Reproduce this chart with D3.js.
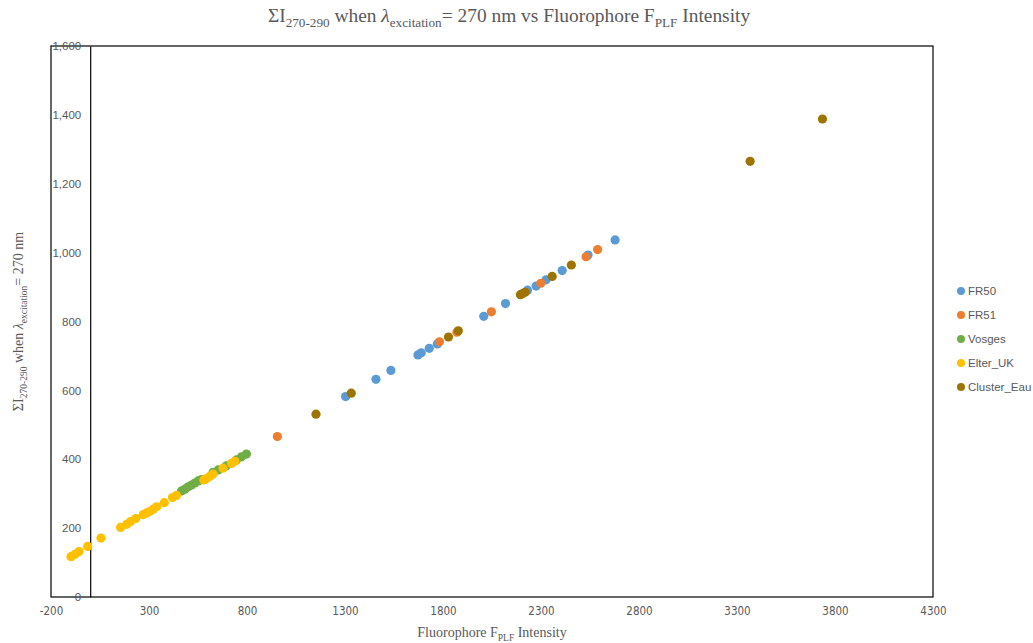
<!DOCTYPE html>
<html>
<head>
<meta charset="utf-8">
<script src="https://cdn.jsdelivr.net/npm/d3@7"></script>
<style>
  body { margin: 0; background: #fff; }
  svg { display: block; }
</style>
</head>
<body>
<svg id="chart" width="1033" height="643"></svg>
<script>
// series: [fluorophore intensity, sum I 270-290]
const fr50= [[1303,582],[1458,632],[1534,658],[1672,703],[1689,709],[1730,722],[1771,735],
  [2008,815],[2119,852],[2231,891],[2275,903],[2326,921],[2408,948],[2540,993],[2678,1037]];
const fr51= [[955,466],[1782,741],[1871,769],[2047,828],[2299,911],[2530,988],[2589,1009]];
const vosges= [[466,308],[483,313],[500,320],[517,325],[534,331],[551,337],[568,341],
  [627,362],[653,369],[695,381],[746,398],[772,407],[797,415]];
const elterUK= [[-98,117],[-78,124],[-57,132],[-13,147],[55,171],[155,202],[186,211],[206,219],
  [233,228],[270,239],[288,244],[305,249],[321,255],[339,262],[378,274],[420,289],[440,295],
  [580,340],[593,344],[610,350],[627,357],[678,374],[721,388],[738,394]];
const clusterEau= [[1152,531],[1332,592],[1828,755],[1878,773],[2195,878],[2207,881],[2219,885],
  [2357,931],[2455,964],[3367,1265],[3736,1388]];

const seriesNames= ['FR50', 'FR51', 'Vosges', 'Elter_UK', 'Cluster_Eau'];
const seriesColors= ['#5b9bd5', '#ed7d31', '#70ad47', '#ffc000', '#9e7400'];
const seriesData= [fr50, fr51, vosges, elterUK, clusterEau];

const xTicks= [-200, 300, 800, 1300, 1800, 2300, 2800, 3300, 3800, 4300];
const yTicks= [0, 200, 400, 600, 800, 1000, 1200, 1400, 1600];

const svg= d3.select('#chart');
const L= 51, R= 933, T= 46, B= 597;

const x= d3.scaleLinear().domain([-200, 4300]).range([L, R]);
const y= d3.scaleLinear().domain([0, 1600]).range([B, T]);

const grey= '#595959';
const serif= '"Liberation Serif", "Times New Roman", serif';
const sans= '"Liberation Sans", Arial, sans-serif';

// plot border
svg.append('rect')
  .attr('x', L).attr('y', T).attr('width', R-L).attr('height', B-T)
  .attr('fill', 'none').attr('stroke', '#000').attr('stroke-width', 1.2);

// y axis sits at x = 0
const yAxis= svg.append('g')
  .attr('transform', `translate(${x(0)},0)`)
  .call(d3.axisLeft(y).tickValues(yTicks).tickSize(0).tickPadding(9).tickFormat(d3.format(',')));
yAxis.select('.domain').attr('stroke', '#000').attr('stroke-width', 1.2);
yAxis.selectAll('text').attr('fill', grey).style('font-family', sans).style('font-size', '11.5px');

const xAxis= svg.append('g')
  .attr('transform', `translate(0,${B})`)
  .call(d3.axisBottom(x).tickValues(xTicks).tickSize(0).tickPadding(10).tickFormat(d => String(d)));
xAxis.select('.domain').remove();
xAxis.selectAll('text').attr('fill', grey)
  .style('font-family', '"Liberation Sans Narrow", "DejaVu Sans Condensed", sans-serif')
  .style('font-size', '11.5px');

// points
seriesData.forEach((pts, i) => {
  svg.append('g').selectAll('circle').data(pts).join('circle')
    .attr('cx', d => x(d[0]))
    .attr('cy', d => y(d[1]))
    .attr('r', 4.6)
    .attr('fill', seriesColors[i]);
});

// text with subscripts
function richText(g, parts, size) {
  const t= g.append('text').attr('fill', grey).style('font-family', serif).style('font-size', size+'px');
  let shift= 0;
  parts.forEach(p => {
    const sub= p.sub;
    const ts= t.append('tspan').text(p.t);
    const want= sub ? size*0.28 : 0;
    if (want !== shift) { ts.attr('dy', want-shift); shift= want; }
    if (sub) ts.style('font-size', (size*0.68)+'px');
    if (p.it) ts.style('font-style', 'italic');
  });
  return t;
}

const title= richText(svg, [
  {t: 'ΣI'}, {t: '270-290', sub: true}, {t: ' when '}, {t: 'λ', it: true},
  {t: 'excitation', sub: true}, {t: '= 270 nm vs Fluorophore F'}, {t: 'PLF', sub: true}, {t: ' Intensity'}
], 19.4);
title.attr('x', 509).attr('y', 22).attr('text-anchor', 'middle');

const xt= richText(svg, [{t: 'Fluorophore F'}, {t: 'PLF', sub: true}, {t: ' Intensity'}], 14);
xt.attr('x', (L+R)/2).attr('y', 637).attr('text-anchor', 'middle');

const yt= richText(svg, [
  {t: 'ΣI'}, {t: '270-290', sub: true}, {t: ' when '}, {t: 'λ', it: true},
  {t: 'excitation', sub: true}, {t: '= 270 nm'}
], 14);
yt.attr('text-anchor', 'middle')
  .attr('transform', `translate(23,${(T+B)/2}) rotate(-90)`);

// legend
const leg= svg.append('g');
seriesNames.forEach((name, i) => {
  const ly= 291 + i*24;
  leg.append('circle').attr('cx', 961).attr('cy', ly).attr('r', 4).attr('fill', seriesColors[i]);
  leg.append('text').attr('x', 968).attr('y', ly).attr('dy', '0.35em')
    .attr('fill', grey).style('font-family', sans).style('font-size', '11.5px').text(name);
});
</script>
</body>
</html>
